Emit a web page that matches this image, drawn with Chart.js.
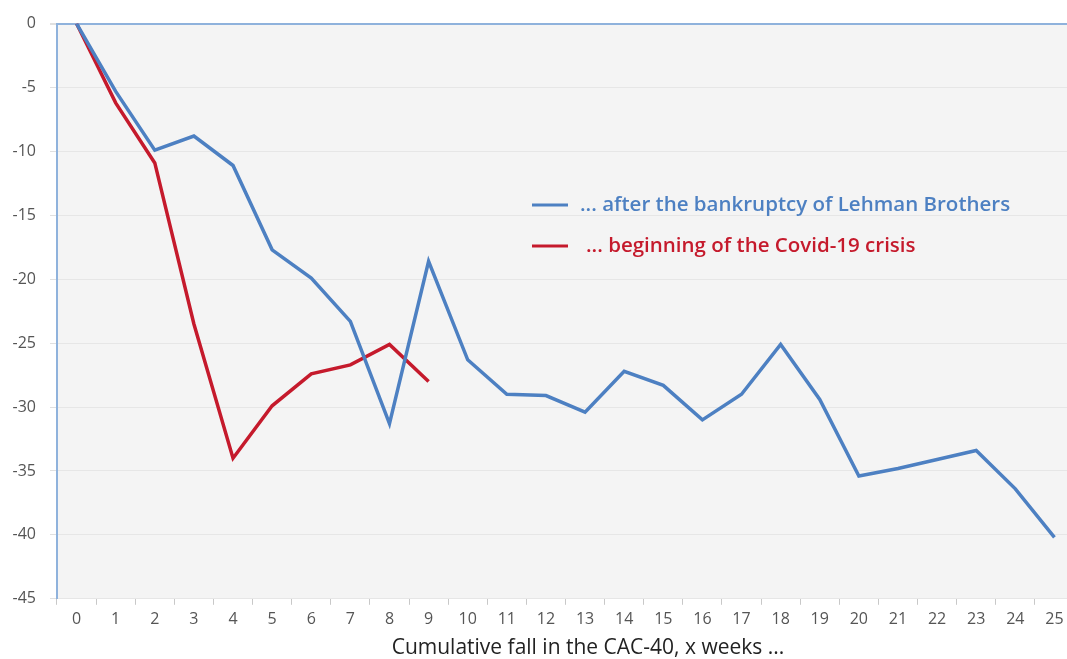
<!DOCTYPE html>
<html>
<head>
<meta charset="utf-8">
<script src="https://cdn.jsdelivr.net/npm/chart.js@4"></script>
<style>
  html, body { margin: 0; padding: 0; background: #fff; overflow: hidden; }
  #wrap { position: relative; width: 1074px; height: 659px; }
</style>
</head>
<body>
<div id="wrap"><canvas id="chart"></canvas></div>
<script>
/* ── data ── */
const weeks = ['0','1','2','3','4','5','6','7','8','9','10','11','12','13','14','15','16','17','18','19','20','21','22','23','24','25'];
const lehman = [0,-5.3,-9.9,-8.8,-11.1,-17.7,-19.9,-23.3,-31.3,-18.6,-26.3,-29.0,-29.1,-30.4,-27.2,-28.3,-31.0,-29.0,-25.1,-29.4,-35.4,-34.8,-34.1,-33.4,-36.4,-40.2];
const covid  = [0,-6.2,-10.9,-23.5,-34.0,-29.9,-27.4,-26.7,-25.1,-28.0];
const seriesNames = ['... after the bankruptcy of Lehman Brothers', '... beginning of the Covid-19 crisis'];
const xTitle = 'Cumulative fall in the CAC-40, x weeks ...';

const BLUE = '#4d80c2';
const RED  = '#c51a2c';
const axisBlue = '#8fb2dc';
const FONT = "'Open Sans', sans-serif";

/* plot background */
const plotBg = {
  id: 'plotBg',
  beforeDraw(chart) {
    const { ctx, chartArea: a } = chart;
    ctx.save();
    ctx.fillStyle = '#f4f4f4';
    ctx.fillRect(a.left, a.top, a.right - a.left, a.bottom - a.top);
    ctx.restore();
  }
};

/* legend inside the plot + x-axis title (slightly off centre, like the original) */
const extras = {
  id: 'extras',
  afterDraw(chart) {
    const { ctx } = chart;
    const rows = [
      { y: 205, textX: 580, color: BLUE, text: chart.data.datasets[0].label },
      { y: 246, textX: 586, color: RED,  text: chart.data.datasets[1].label }
    ];
    ctx.save();
    ctx.font = `600 20.5px ${FONT}`;
    ctx.textBaseline = 'middle';
    rows.forEach(r => {
      ctx.strokeStyle = r.color;
      ctx.lineWidth = 3;
      ctx.beginPath();
      ctx.moveTo(532, r.y);
      ctx.lineTo(568, r.y);
      ctx.stroke();
      ctx.fillStyle = r.color;
      ctx.fillText(r.text, r.textX, r.y);
    });

    ctx.font = `21px ${FONT}`;
    ctx.fillStyle = '#222';
    ctx.textAlign = 'center';
    ctx.fillText(xTitle, 588, 648);
    ctx.restore();
  }
};

new Chart(document.getElementById('chart'), {
  type: 'line',
  data: {
    labels: weeks,
    datasets: [
      { label: seriesNames[0], data: lehman, borderColor: BLUE, borderWidth: 3.5, pointRadius: 0, tension: 0, fill: false },
      { label: seriesNames[1], data: covid,  borderColor: RED,  borderWidth: 3.5, pointRadius: 0, tension: 0, fill: false }
    ]
  },
  options: {
    responsive: true,
    maintainAspectRatio: false,
    animation: false,
    layout: { padding: { top: 17, right: 0, left: 0, bottom: 25 } },
    plugins: {
      legend: { display: false },
      tooltip: { enabled: false }
    },
    scales: {
      x: {
        offset: true,
        grid: { drawOnChartArea: false, offset: true, tickLength: 6, tickColor: '#c8c8c8' },
        border: { display: false },
        ticks: { color: '#555', font: { family: FONT, size: 16 }, padding: 5, maxRotation: 0, autoSkip: false }
      },
      y: {
        min: -45,
        max: 0,
        afterFit(scale) { scale.width = 57; },
        ticks: { stepSize: 5, color: '#555', font: { family: FONT, size: 16 }, padding: 14 },
        grid: {
          color: c => c.tick && c.tick.value === 0 ? axisBlue : '#e6e6e6',
          lineWidth: c => c.tick && c.tick.value === 0 ? 2 : 1,
          tickLength: 7,
          tickColor: '#e0e0e0'
        },
        border: { display: true, color: axisBlue, width: 2 }
      }
    }
  },
  plugins: [plotBg, extras]
});
</script>
</body>
</html>
